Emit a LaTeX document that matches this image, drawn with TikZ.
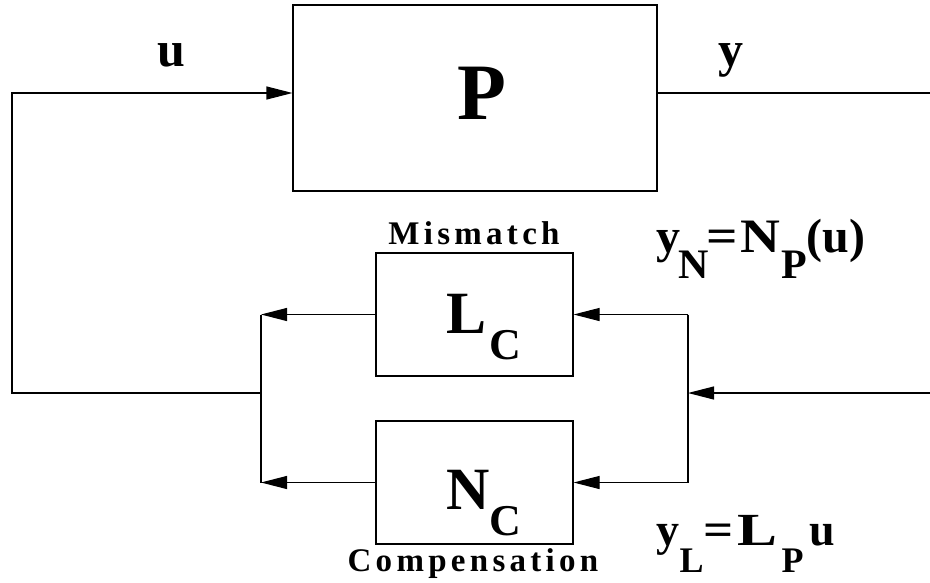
\documentclass[tikz,border=0pt]{standalone}
\usepackage{fontspec}
\usepackage{graphicx}
\setmainfont{Liberation Serif}
\newfontfamily\spacedfont{Liberation Serif}[LetterSpace=13]
\usetikzlibrary{arrows.meta}
\newcommand{\fs}[1]{\fontsize{#1}{#1}\selectfont}
\begin{document}
\begin{tikzpicture}[x=1pt,y=-1pt,line width=1.1pt,
  block/.style={draw, line width=1.1pt, inner sep=0pt},
  arr/.style={-{Triangle[length=26pt,width=13pt]}},
  lbl/.style={anchor=base, inner sep=0pt, font=\bfseries},
  lblw/.style={anchor=base west, inner sep=0pt, font=\bfseries}]
\useasboundingbox (0,0) rectangle (930,582);
% blocks
\node[block, minimum width=364pt, minimum height=186pt] (P) at (475,98) {};
\node[block, minimum width=197pt, minimum height=123pt] (LC) at (474.5,314.5) {};
\node[block, minimum width=197pt, minimum height=123pt] (NC) at (474.5,482.5) {};
% labels
\node[lbl] (Plbl) at (482,119) {\fs{80}P};
\node[lbl] (ulbl) at (171,66) {\fs{50}u};
\node[lbl] (ylbl) at (731,66) {\fs{50}y};
\node[lbl] (mis) at (474,244) {\spacedfont\bfseries\fs{33}Mismatch};
\node[lbl] (comp) at (473,571) {\spacedfont\bfseries\fs{33}Compensation};
\node[lblw] (LClbl) at (446,333) {\fs{60}L\hspace{3pt}\raisebox{-26pt}{\fs{44}C}};
\node[lblw] (NClbl) at (446,509) {\fs{60}N\raisebox{-26pt}{\fs{44}C}};
\node[lblw] (yN) at (656,252) {\fs{48}y\hspace{-2pt}\raisebox{-26pt}{\fs{42}N}\hspace{-2pt}\scalebox{1.15}[1]{=}\hspace{2pt}\scalebox{1.15}[1]{N}\hspace{1pt}\raisebox{-26pt}{\fs{42}P}(u)};
\node[lblw] (yL) at (656,545) {\fs{46}y\raisebox{-27pt}{\fs{36}L}\scalebox{1.15}[1]{=}\hspace{4pt}\scalebox{1.3}[1]{L}\hspace{4pt}\raisebox{-27pt}{\fs{36}P}\hspace{6pt}u};
% coordinates
\coordinate (uy) at (0,93);
\coordinate (fbl) at (12,393);
\coordinate (jl) at (261,393);
\coordinate (jr) at (688,393);
\coordinate (yout) at (930,93);
\coordinate (yin) at (930,393);
% connectors
\draw[arr] (jl) -- (fbl) |- (P.west |- uy);
\draw (P.east |- uy) -- (yout);
\draw[arr] (yin) -- (jr);
\draw (jr |- LC.east) -- (jr |- NC.east);
\draw[arr] (jr |- LC.east) -- (LC.east);
\draw[arr] (jr |- NC.east) -- (NC.east);
\draw[arr] (LC.west) -- (jl |- LC.west);
\draw[arr] (NC.west) -- (jl |- NC.west);
\draw (jl |- LC.west) -- (jl |- NC.west);
\end{tikzpicture}
\end{document}
